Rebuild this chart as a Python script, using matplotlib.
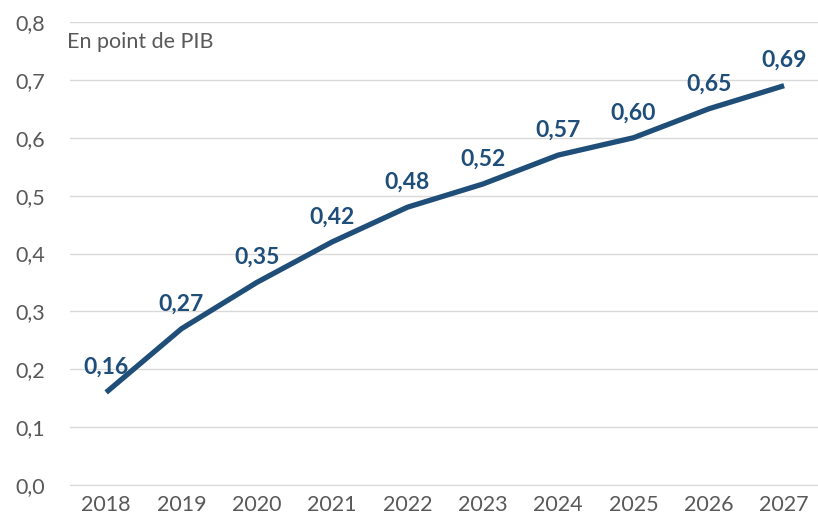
import matplotlib
matplotlib.use("Agg")
import matplotlib.pyplot as plt

years = ["2018", "2019", "2020", "2021", "2022", "2023", "2024", "2025", "2026", "2027"]
values = [0.16, 0.27, 0.35, 0.42, 0.48, 0.52, 0.57, 0.60, 0.65, 0.69]
yticks = [0.0, 0.1, 0.2, 0.3, 0.4, 0.5, 0.6, 0.7, 0.8]

plt.rcParams["font.family"] = ["Lato", "DejaVu Sans"]

fig = plt.figure(figsize=(8.18, 5.27), dpi=100)
ax = fig.add_axes([70 / 818, 42 / 527, 748 / 818, 463 / 527])

x = list(range(len(years)))
ax.plot(x, values, color="#1F4E79", linewidth=3.8, solid_capstyle="butt")

for xi, v in zip(x, values):
    ax.annotate(f"{v:.2f}".replace(".", ","), (xi, v), xytext=(0, 18),
                textcoords="offset points", ha="center", va="center",
                fontsize=16.5, fontweight="bold", color="#1F4E79")

ax.set_xlim(-0.48, 9.45)
ax.set_ylim(0, 0.8)
ax.set_xticks(x)
ax.set_xticklabels(years)
ax.set_yticks(yticks)
ax.set_yticklabels([f"{t:.1f}".replace(".", ",") for t in yticks])
ax.tick_params(axis="both", length=0, labelsize=15.5, labelcolor="#595959")
ax.tick_params(axis="y", pad=18)
ax.tick_params(axis="x", pad=7)
ax.grid(axis="y", color="#D9D9D9", linewidth=1)
ax.set_axisbelow(True)
for side in ["top", "right", "left"]:
    ax.spines[side].set_visible(False)
ax.spines["bottom"].set_color("#D9D9D9")

ax.text(-0.52, 0.765, "En point de PIB", fontsize=15.5, color="#595959",
        ha="left", va="center")

fig.savefig("out.png", dpi=100)
